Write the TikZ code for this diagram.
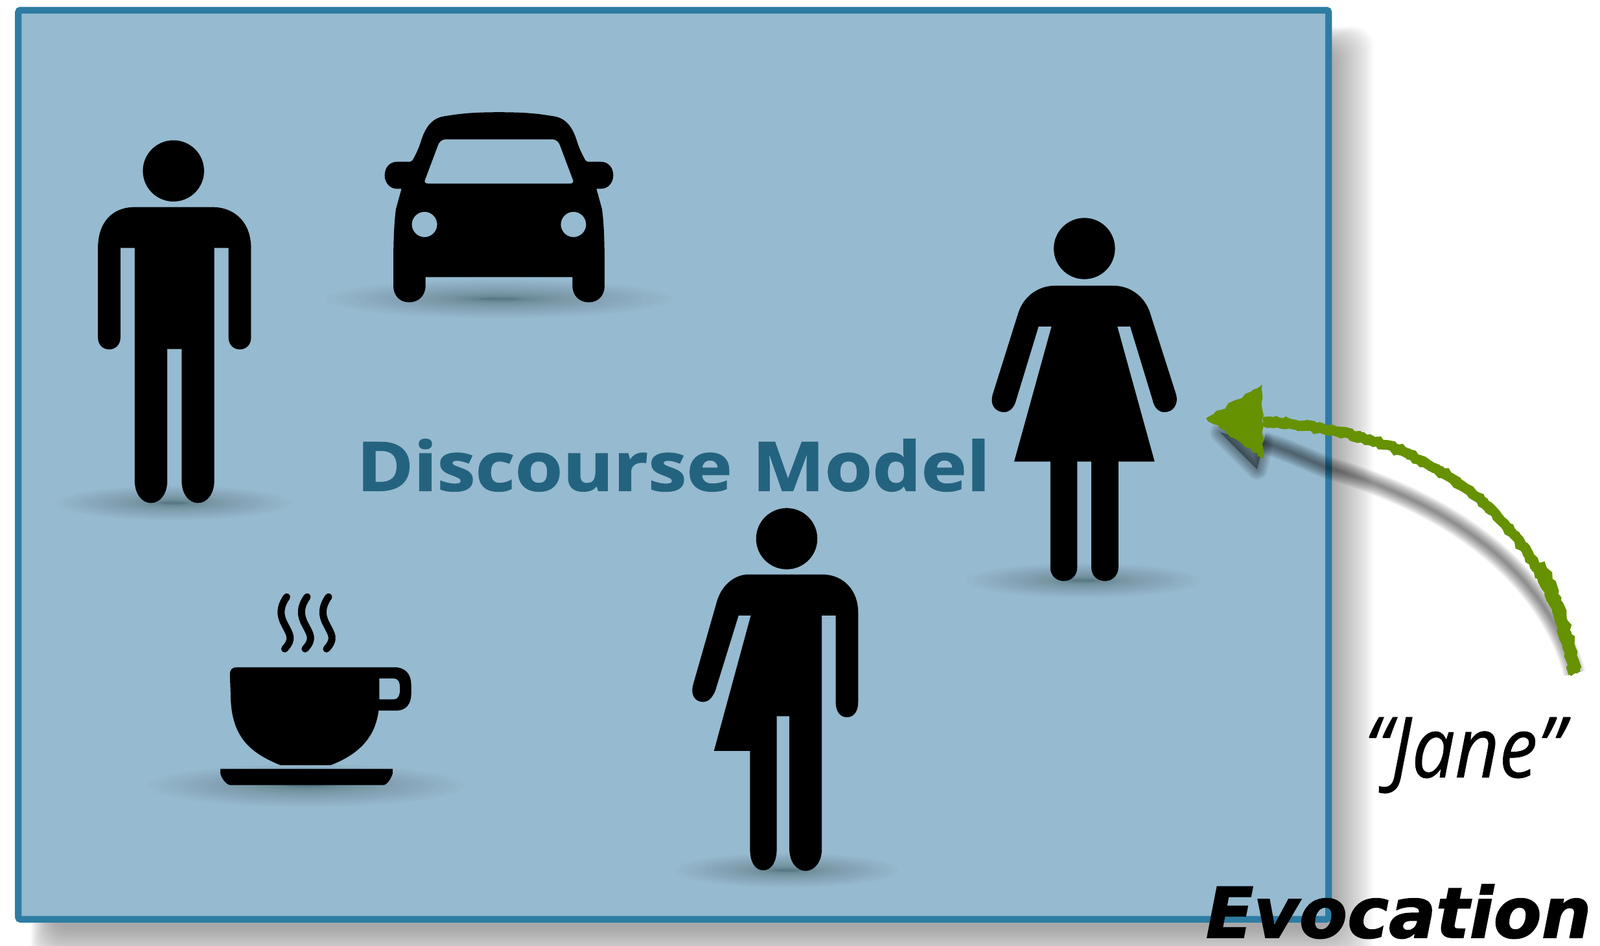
\documentclass[tikz,border=0pt]{standalone}
\usepackage{fontspec}
\usetikzlibrary{decorations.pathmorphing}
\setmainfont{Open Sans}
\newfontfamily\evofont[FakeBold=1.5]{DejaVu Sans Bold Oblique}
\newfontfamily\modelfont[FakeStretch=1.13,FakeBold=1.2]{Open Sans Bold}
\newfontfamily\janefont[FakeStretch=0.91,FakeBold=0.4]{Open Sans Italic}
\definecolor{modelblue}{RGB}{150,186,207}
\definecolor{modelline}{RGB}{46,124,163}
\definecolor{modeltext}{RGB}{36,99,127}
\definecolor{chalkgreen}{RGB}{102,145,0}
\tikzset{
	chalk/.style={chalkgreen,decorate,decoration={random steps,segment length=1.2pt,amplitude=0.45pt}},
	steam/.style={draw=black,line width=0.07cm,line cap=round},
}
\begin{document}
\begin{tikzpicture}[x=0.01cm,y=-0.01cm]
	\useasboundingbox (0,0) rectangle (1568,927);
	
	% shadow of the box
	\begin{scope}
		\clip (0,0) rectangle (1568,927);
		\foreach \i in {0,...,20}
			\fill[black,opacity=0.018,rounded corners=0.2cm] (30+\i,26+\i) rectangle (1346-2*\i,950-2*\i);
	\end{scope}
	
	\fill[modelblue,draw=modelline,line width=0.065cm,rounded corners=0.02cm] (18,10) rectangle (1302,901);
	
	% shadows on the ground
	\foreach \cx/\cy/\rx/\ry in {170/493/115/16,489/293/170/18,1062/569/115/16,771/853/110/16,300/770/155/20}
		\foreach \k in {1,...,30}
			\fill[black,opacity=0.011] (\cx,\cy) ellipse ({\rx*(0.1+0.9*(\k/30)^2)} and {\ry*(\k/30)^2+1});
	
	% man
	\fill (170,167.5) circle (30);
	\fill (96,243) .. controls (96,218) and (110,203) .. (132,203) -- (208,203) .. controls (230,203) and (246,218) .. (246,243)
		-- (246,331) .. controls (246,338) and (241,342.5) .. (235,342.5) .. controls (229,342.5) and (224,338) .. (224,331)
		-- (224,243) -- (210,243) -- (210,471) .. controls (210,484) and (203,493) .. (194,493) .. controls (185,493) and (178,484) .. (178,471)
		-- (178,342) -- (164,342) -- (164,471) .. controls (164,484) and (157,493) .. (148,493) .. controls (139,493) and (132,484) .. (132,471)
		-- (132,243) -- (118,243) -- (118,331) .. controls (118,338) and (113,342.5) .. (107,342.5) .. controls (101,342.5) and (96,338) .. (96,331) -- cycle;
	
	% car
	\fill[even odd rule] (489,110) .. controls (520,110) and (530,112) .. (543,114) .. controls (555,116) and (561,125) .. (565,137)
		.. controls (568,147) and (571,152) .. (573.6,157) -- (576,158.6) -- (589,158.6) .. controls (596,158.6) and (601,164) .. (601,172)
		.. controls (601,179) and (596,185) .. (589,185) -- (584.5,185) -- (590,205) .. controls (592,220) and (592.5,240) .. (592.5,260)
		-- (592.5,280) .. controls (592.5,290) and (586,296.3) .. (577,296.3) .. controls (568,296.3) and (561,290) .. (561,280)
		-- (561,271.5) -- (417,271.5) -- (417,280) .. controls (417,290) and (410,296.3) .. (401,296.3) .. controls (392,296.3) and (385.5,290) .. (385.5,280)
		-- (385.5,260) .. controls (385.5,240) and (386,220) .. (388,205) -- (393.5,185) -- (389,185) .. controls (382,185) and (377,179) .. (377,172)
		.. controls (377,164) and (382,158.6) .. (389,158.6) -- (402,158.6) -- (404.4,157) .. controls (407,152) and (410,147) .. (413,137)
		.. controls (417,125) and (423,116) .. (435,114) .. controls (448,112) and (458,110) .. (489,110) -- cycle
		(437,136.6) -- (541,136.6) .. controls (546,136.6) and (548,140) .. (549,143) -- (561,175) .. controls (563,179) and (561,180) .. (558,180)
		-- (420,180) .. controls (417,180) and (415,179) .. (417,175) -- (429,143) .. controls (430,140) and (432,136.6) .. (437,136.6) -- cycle
		(416,220) circle (12.4) (562,220) circle (12.4);
	
	% woman
	\fill (1062.7,243.6) circle (30);
	\fill (1034,280) -- (1091,280) .. controls (1108,280) and (1122,291) .. (1127,306.5) -- (1152.7,387) .. controls (1155,396) and (1150,404) .. (1141,404)
		.. controls (1136,404) and (1131,400) .. (1129.4,391.6) -- (1107.6,320) -- (1095,320) -- (1131.5,452.4) -- (1096,452.4) -- (1096,556)
		.. controls (1096,564) and (1090,569.5) .. (1083,569.5) .. controls (1075,569.5) and (1069.5,564) .. (1069.5,556) -- (1069.5,452.4) -- (1055.7,452.4) -- (1055.7,556)
		.. controls (1055.7,564) and (1050,569.5) .. (1042.5,569.5) .. controls (1035,569.5) and (1029.3,564) .. (1029.3,556) -- (1029.3,452.4) -- (993.9,452.4)
		-- (1030.5,320) -- (1017.8,320) -- (996,391.6) .. controls (994,400) and (989,404) .. (984,404) .. controls (975,404) and (970,396) .. (972.7,387)
		-- (998,306.5) .. controls (1003,291) and (1017,280) .. (1034,280) -- cycle;
	
	% third figure
	\fill (771,528) circle (30);
	\fill (734,563) -- (805,563) .. controls (828,563) and (841,580) .. (841,600) -- (841,688) .. controls (841,697) and (837,703) .. (830,703)
		.. controls (823,703) and (819,697) .. (819,688) -- (819,603.3) -- (805.4,603.3) -- (805.4,832) .. controls (805.4,845) and (798,853.6) .. (789.5,853.6)
		.. controls (781,853.6) and (773.6,845) .. (773.6,832) -- (773.6,702) -- (761.2,702) -- (761.2,832) .. controls (761.2,845) and (756,853) .. (748,853)
		.. controls (740,853) and (735,845) .. (735,832) -- (735,736) -- (699.7,736) -- (735.8,603.3) -- (723.8,603.3) -- (701,677)
		.. controls (698,684) and (694,688) .. (689.5,688) .. controls (680,688) and (677,680) .. (679,672) -- (703,588) .. controls (708,573) and (720,563) .. (734,563) -- cycle;
	
	% cup
	\fill[even odd rule] (232,654) -- (386,654) .. controls (397,654) and (403,660) .. (403,672) -- (403,680) .. controls (403,690) and (398,696.5) .. (388,696.5)
		-- (371,696.5) .. controls (368,720) and (355,738) .. (324,750) -- (275,750) .. controls (245,738) and (226,722) .. (226,680)
		-- (225.3,661) .. controls (225.3,656) and (228,654) .. (232,654) -- cycle
		(371.8,665) -- (386,665) .. controls (390,665) and (392,668) .. (392,675) .. controls (392,682) and (390,685.5) .. (386,685.5) -- (371.8,685.5) -- cycle;
	\fill (216,753.6) -- (384.8,753.6) -- (384.8,758) .. controls (383,764) and (379,769.5) .. (375.4,769.5) -- (226,769.5) .. controls (222,769.5) and (217,763) .. (216,758) -- cycle;
	\foreach \o in {0,20,41}
		\draw[steam] (281+\o,585) .. controls (274+\o,595) and (274+\o,603) .. (279+\o,612) .. controls (284+\o,622) and (288+\o,626) .. (279+\o,636);
	
	\node[inner sep=0pt,text=modeltext] (discourse) at (660,456) {\fontsize{19}{19}\modelfont Discourse Model};
	
	\coordinate (janeend) at (1543,660);
	\coordinate (headbase) at (1238,413);
	\coordinate (arrowtip) at (1182,410);
	
	% shadow of the arrow
	\foreach \w in {0.02,0.04,...,0.22}
		\draw[black,opacity=0.05,line width=\w cm] (janeend) .. controls (1525,590) and (1460,505) .. (1300,458) .. controls (1280,450) and (1260,440) .. (1238,434);
	\foreach \s in {0.02,0.05,...,0.2}
		\fill[black,opacity=0.06,draw=black,line width=\s cm,line join=round] (1196,424) -- (1232,460) -- (1238,434) -- cycle;
	
	% arrow
	\foreach \w in {0.07,0.085,0.095}
		\draw[chalk,line width=\w cm] (janeend) .. controls (1525,560) and (1470,480) .. (1359,436) .. controls (1320,424) and (1280,415) .. (headbase);
	\draw[chalk,line width=0.12cm] (janeend) .. controls (1538,635) and (1530,595) .. (1508,552);
	\fill[chalk] (arrowtip) -- (1237,377) -- (1238,449) -- cycle;
	
	\node[inner sep=0pt,anchor=base] (jane) at (1435,762) {\fontsize{23.5}{23.5}\janefont “Jane”};
	\node[inner sep=0pt,anchor=base west] (evocation) at (1181,919) {\fontsize{19.5}{19.5}\evofont Evocation};
\end{tikzpicture}
\end{document}
